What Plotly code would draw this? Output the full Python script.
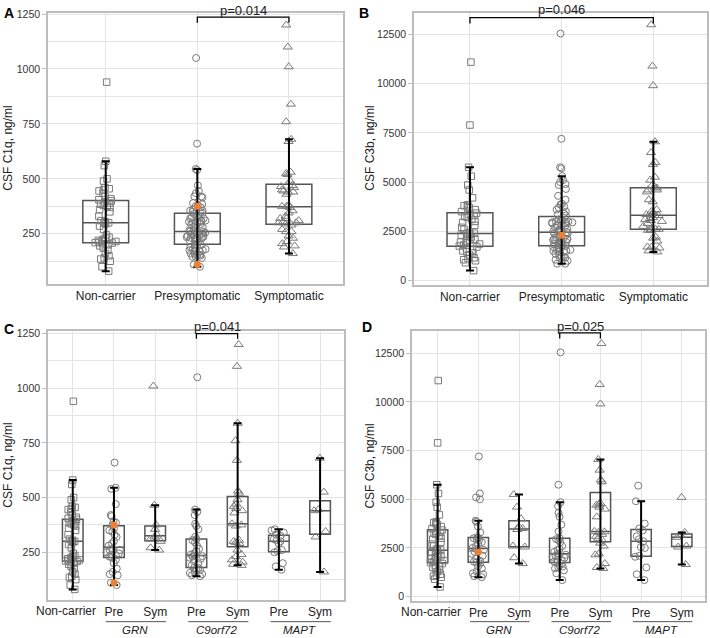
import numpy as np
import plotly.graph_objects as go

# categories
top_groups = ["Non-carrier", "Presymptomatic", "Symptomatic"]
sub_groups = ["Non-carrier", "Pre", "Sym", "Pre", "Sym", "Pre", "Sym"]
genes = ["GRN", "C9orf72", "MAPT"]

# CSF C1q, ng/ml
c1q_noncarrier = [80, 100, 125, 135, 140, 150, 160, 175, 185, 195, 200, 205, 208, 210, 212,
                  215, 218, 220, 225, 230, 235, 245, 270, 285, 295, 300, 300, 305, 310, 330,
                  350, 360, 370, 375, 380, 385, 390, 395, 400, 405, 410, 420, 435, 445, 450,
                  455, 460, 490, 500, 560, 580, 940]
c1q_grn_pre = [100, 110, 145, 150, 160, 175, 200, 215, 225, 230, 235, 240, 245, 250, 260,
               260, 265, 280, 290, 300, 320, 330, 345, 350, 360, 375, 385, 390, 415, 420,
               470, 540, 545, 660]
c1q_grn_sym = [260, 270, 300, 310, 320, 330, 355, 375, 465, 1010]
c1q_c9_pre = [140, 145, 150, 155, 160, 170, 175, 178, 180, 190, 200, 210, 220, 225, 230,
              232, 235, 240, 245, 255, 265, 280, 295, 305, 310, 320, 355, 370, 380, 420,
              435, 445, 1050]
c1q_c9_sym = [190, 195, 205, 215, 230, 240, 260, 290, 295, 300, 305, 370, 375, 380, 430,
              440, 450, 460, 470, 490, 520, 530, 670, 760, 840, 1100, 1200]
c1q_mapt_pre = [170, 185, 200, 250, 255, 260, 290, 300, 305, 310, 325, 330, 340, 350, 355]
c1q_mapt_sym = [160, 320, 345, 440, 445, 525, 680]

# CSF C3b, ng/ml
c3b_noncarrier = [500, 900, 1000, 1050, 1100, 1150, 1300, 1400, 1450, 1500, 1550, 1600, 1700,
                  1750, 1800, 1850, 1900, 1950, 2000, 2050, 2100, 2200, 2250, 2300, 2350, 2380,
                  2400, 2450, 2600, 2700, 2800, 2950, 3000, 3100, 3200, 3250, 3300, 3350, 3420,
                  3500, 3600, 3700, 3750, 3800, 3850, 4200, 4600, 4850, 5300, 5750, 7900, 11100]
c3b_grn_pre = [1000, 1050, 1150, 1200, 1300, 1450, 1550, 1700, 1750, 1800, 1850, 1950, 2100,
               2200, 2300, 2400, 2450, 2500, 2600, 2700, 2800, 2900, 2950, 3000, 3020, 3050,
               3300, 3600, 3850, 3900, 5000, 5100, 5300, 7200]
c3b_grn_sym = [1700, 2000, 2550, 2600, 3450, 3500, 3600, 4000, 4600, 5250]
c3b_c9_pre = [850, 1200, 1350, 1450, 1500, 1550, 1600, 1700, 1750, 1800, 1850, 1900, 2000,
              2050, 2100, 2150, 2200, 2300, 2400, 2450, 2600, 2800, 2900, 2950, 3000, 3350,
              3700, 4100, 4300, 4650, 4850, 5750, 12550]
c3b_c9_sym = [1450, 1500, 1700, 2150, 2200, 2600, 2750, 2900, 3000, 3100, 3200, 3300, 3330,
              3350, 4100, 4500, 4600, 4700, 4750, 4800, 5900, 6000, 6500, 7050, 9900, 10900, 13000]
c3b_mapt_pre = [850, 1150, 1500, 2050, 2100, 2500, 2550, 2850, 2950, 3100, 3400, 3500, 3750, 4900, 5700]
c3b_mapt_sym = [1650, 2550, 2600, 3050, 3150, 3300, 5100]

# highlighted presymptomatic GRN carriers
c1q_orange = [375, 110]
c3b_orange = [2300]

p_labels = ["p=0.014", "p=0.046", "p=0.041", "p=0.025"]

W, H = 710, 638
PT = "#7a7a7a"
BOX = "#555555"
GRID = "#e4e4e4"
ORANGE = "#EE8033"
FONT = "Arial, Liberation Sans, sans-serif"


def stats(vals):
    v = np.sort(np.asarray(vals, float))
    q1, med, q3 = np.percentile(v, [25, 50, 75])
    iqr = q3 - q1
    lf = v[v >= q1 - 1.5 * iqr].min()
    uf = v[v <= q3 + 1.5 * iqr].max()
    return q1, med, q3, lf, uf


def add_group(fig, ax, pos, vals, symbol, size, jitter):
    xa, ya = "x" + ax, "y" + ax
    q1, med, q3, lf, uf = stats(vals)
    fig.add_trace(go.Box(
        x=[pos], q1=[q1], median=[med], q3=[q3], lowerfence=[q1], upperfence=[q3],
        width=0.5, whiskerwidth=0, boxpoints=False, fillcolor="rgba(0,0,0,0)",
        line=dict(color=BOX, width=1.5), xaxis=xa, yaxis=ya, hoverinfo="skip"))
    fig.add_trace(go.Box(
        x=[pos] * len(vals), y=vals, boxpoints="all", jitter=jitter, pointpos=0,
        width=0.5, fillcolor="rgba(0,0,0,0)", line=dict(color="rgba(0,0,0,0)", width=0),
        marker=dict(symbol=symbol, size=size, color=PT, line=dict(width=1, color=PT)),
        xaxis=xa, yaxis=ya))
    fig.add_trace(go.Scatter(
        x=[pos], y=[lf], mode="markers", marker=dict(size=1, color="rgba(0,0,0,0)"),
        error_y=dict(type="data", symmetric=False, array=[uf - lf], arrayminus=[0],
                     color="black", thickness=2, width=4),
        xaxis=xa, yaxis=ya, hoverinfo="skip"))


fig = go.Figure()

sym = {"nc": ("square-open", 6.5), "pre": ("circle-open", 7), "sym": ("triangle-up-open", 8)}

# A / B: pooled groups
for ax, nc, pres, syms in [
    ("", c1q_noncarrier, [c1q_grn_pre, c1q_c9_pre, c1q_mapt_pre], [c1q_grn_sym, c1q_c9_sym, c1q_mapt_sym]),
    ("2", c3b_noncarrier, [c3b_grn_pre, c3b_c9_pre, c3b_mapt_pre], [c3b_grn_sym, c3b_c9_sym, c3b_mapt_sym]),
]:
    add_group(fig, ax, 0, nc, *sym["nc"], 0.5)
    add_group(fig, ax, 1, sum(pres, []), *sym["pre"], 0.5)
    add_group(fig, ax, 2, sum(syms, []), *sym["sym"], 0.5)

# C / D: by gene
for ax, nc, gene_groups in [
    ("3", c1q_noncarrier, [c1q_grn_pre, c1q_grn_sym, c1q_c9_pre, c1q_c9_sym, c1q_mapt_pre, c1q_mapt_sym]),
    ("4", c3b_noncarrier, [c3b_grn_pre, c3b_grn_sym, c3b_c9_pre, c3b_c9_sym, c3b_mapt_pre, c3b_mapt_sym]),
]:
    add_group(fig, ax, 0, nc, *sym["nc"], 0.75)
    for i, g in enumerate(gene_groups):
        add_group(fig, ax, i + 1, g, *sym["pre" if i % 2 == 0 else "sym"], 0.75)

# orange highlighted points
for ax, vals in [("", c1q_orange), ("2", c3b_orange), ("3", c1q_orange), ("4", c3b_orange)]:
    fig.add_trace(go.Scatter(x=[1] * len(vals), y=vals, mode="markers",
                             marker=dict(symbol="circle", size=7, color=ORANGE),
                             xaxis="x" + ax, yaxis="y" + ax, hoverinfo="skip"))


def dx(a, b):
    return [a / W, b / W]


def dy(top, bot):
    return [1 - bot / H, 1 - top / H]


xcommon = dict(showgrid=True, gridcolor=GRID, zeroline=False, showline=True, mirror=True,
               linecolor="#bdbdbd", linewidth=1.5, ticks="", tickangle=0,
               tickfont=dict(size=12, color="#222"))
ycommon = dict(showgrid=True, gridcolor=GRID, zeroline=False, showline=True, mirror=True,
               linecolor="#bdbdbd", linewidth=1.5, ticks="outside", ticklen=4, tickcolor="#bdbdbd",
               ticklabelstandoff=0, tickformat="d", tickfont=dict(size=10.5, color="#333"))

# the "Non-carrier" label in C/D sits a little left of its group, drawn as an annotation
sub_ticktext = [""] + sub_groups[1:]

fig.update_layout(
    width=W, height=H, margin=dict(l=0, r=0, t=0, b=0),
    paper_bgcolor="white", plot_bgcolor="white", showlegend=False,
    font=dict(family=FONT, color="#222"),
    xaxis=dict(domain=dx(48, 343), range=[-0.63, 2.59], anchor="y",
               tickvals=[0, 1, 2], ticktext=top_groups, **xcommon),
    yaxis=dict(domain=dy(8, 282), range=[20, 1255], anchor="x", tick0=0, dtick=250,
               minor=dict(tick0=0, dtick=125, showgrid=True, gridcolor=GRID), **ycommon),
    xaxis2=dict(domain=dx(414, 707), range=[-0.61, 2.585], anchor="y2",
                tickvals=[0, 1, 2], ticktext=top_groups, **xcommon),
    yaxis2=dict(domain=dy(8, 283), range=[-250, 13600], anchor="x2", tick0=0, dtick=2500, **ycommon),
    xaxis3=dict(domain=dx(48, 344), range=[-0.6, 6.58], anchor="y3",
                tickvals=list(range(7)), ticktext=sub_ticktext, **xcommon),
    yaxis3=dict(domain=dy(329, 601), range=[30, 1262], anchor="x3", tick0=0, dtick=250,
                minor=dict(tick0=0, dtick=125, showgrid=True, gridcolor=GRID), **ycommon),
    xaxis4=dict(domain=dx(412, 705), range=[-0.63, 6.57], anchor="y4",
                tickvals=list(range(7)), ticktext=sub_ticktext, **xcommon),
    yaxis4=dict(domain=dy(329, 602), range=[-240, 13650], anchor="x4", tick0=0, dtick=2500, **ycommon),
)

shapes, annots = [], []

for ax, ly in [("3", 612), ("4", 613)]:
    annots.append(dict(text=sub_groups[0], xref="x" + ax, yref="paper", x=0, y=1 - ly / H,
                       xshift=-7, showarrow=False, font=dict(size=12, color="#222"),
                       xanchor="center", yanchor="middle"))

# significance brackets: (axis, left group, right group, bracket top, leg bottom, label y px)
brackets = [("", 1, 2, 1236, 1210, 6), ("2", 0, 2, 13360, 13060, 5),
            ("3", 3, 4, 1250, 1226, 325), ("4", 3, 4, 13548, 13260, 325)]
for (ax, a, b, hi, lo, ty), txt in zip(brackets, p_labels):
    shapes.append(dict(type="path", xref="x" + ax, yref="y" + ax,
                       path=f"M {a},{lo} L {a},{hi} L {b},{hi} L {b},{lo}",
                       line=dict(color="black", width=1.3)))
    annots.append(dict(text=txt, xref="x" + ax, yref="paper", x=(a + b) / 2, y=1 - ty / H,
                       showarrow=False, font=dict(size=13, color="#222"),
                       xanchor="center", yanchor="middle"))

# gene group labels under panels C and D
for ax in ["3", "4"]:
    for k, g in enumerate(genes):
        mid = 1.5 + 2 * k
        shapes.append(dict(type="line", xref="x" + ax, yref="paper", x0=mid - 0.7, x1=mid + 0.76,
                           y0=1 - 622.5 / H, y1=1 - 622.5 / H, line=dict(color="#555", width=1)))
        annots.append(dict(text=f"<i>{g}</i>", xref="x" + ax, yref="paper", x=mid, y=1 - 631 / H,
                           showarrow=False, font=dict(size=11.5, color="#222"),
                           xanchor="center", yanchor="middle"))

# panel letters
for letter, x, y in [("A", 9, 8), ("B", 364, 8), ("C", 9, 327), ("D", 367, 325)]:
    annots.append(dict(text=f"<b>{letter}</b>", xref="paper", yref="paper", x=x / W, y=1 - y / H,
                       showarrow=False, font=dict(size=14, color="black"),
                       xanchor="center", yanchor="middle"))

# y-axis titles
for txt, x, y in [("CSF C1q, ng/ml", 8, 145), ("CSF C3b, ng/ml", 370, 145),
                  ("CSF C1q, ng/ml", 8, 465), ("CSF C3b, ng/ml", 370, 466)]:
    annots.append(dict(text=txt, xref="paper", yref="paper", x=x / W, y=1 - y / H, textangle=-90,
                       showarrow=False, font=dict(size=12, color="#222"),
                       xanchor="center", yanchor="middle"))

fig.update_layout(shapes=shapes, annotations=annots)
# page body has a default 8px margin; drop it so the figure fills the window
fig.write_html("out.html", config={"displayModeBar": False},
               post_script="document.body.style.margin='0';")
